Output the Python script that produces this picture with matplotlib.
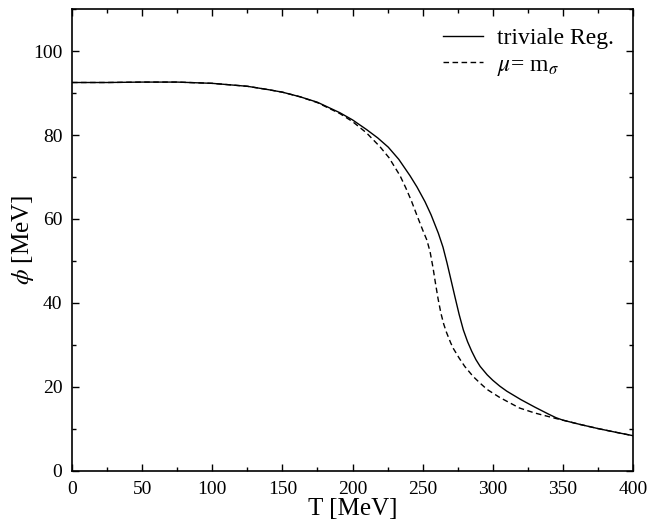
import numpy as np
import matplotlib
matplotlib.use("Agg")
import matplotlib.pyplot as plt
from matplotlib.ticker import MultipleLocator

# values
t_triv = [0, 25, 50, 75, 100, 125, 140, 150, 162.6, 175, 191, 200, 210, 218, 225.5, 233,
          241, 246, 251.7, 256, 261.2, 264.5, 267.4, 270, 273, 276, 279, 282, 285, 288,
          291, 296, 300, 305, 310, 320, 330, 340, 345, 350, 362, 375, 388, 400]
phi_triv = [92.5, 92.5, 92.6, 92.6, 92.3, 91.6, 90.8, 90.2, 89.1, 87.8, 85.3, 83.6, 81.3,
            79.3, 77.1, 74.2, 70.3, 67.6, 64.1, 61.0, 56.6, 53.3, 49.5, 45.8, 41.5, 37.3,
            33.6, 30.8, 28.5, 26.5, 24.9, 22.9, 21.6, 20.2, 19.0, 17.0, 15.2, 13.5, 12.7,
            12.1, 11.1, 10.1, 9.2, 8.4]

t_mu = [0, 25, 50, 75, 100, 125, 140, 150, 162.6, 175, 191, 200, 210, 219.6, 226, 233.9,
        238, 242, 246, 250, 253, 255.3, 257.4, 259, 261, 263, 265, 267, 270, 272, 276,
        280, 286, 291, 296, 305, 319, 330, 345, 350, 362, 375, 388, 400]
phi_mu = [92.5, 92.5, 92.6, 92.6, 92.3, 91.6, 90.8, 90.2, 89.1, 87.7, 85.1, 83.2, 80.5,
          77.2, 74.6, 70.3, 67.4, 64.3, 60.8, 57.4, 55.0, 52.2, 48.4, 45.0, 41.0, 37.6,
          35.0, 33.0, 30.5, 29.1, 26.9, 24.9, 22.5, 20.9, 19.4, 17.5, 15.0, 13.8, 12.5,
          12.1, 11.1, 10.1, 9.2, 8.4]

plt.rcParams['font.family'] = 'Liberation Serif'
plt.rcParams['mathtext.fontset'] = 'stix'

fig = plt.figure(figsize=(6.51, 5.27), dpi=100)
ax = fig.add_axes([0.1106, 0.1063, 0.8618, 0.8766])

ax.plot(t_triv, phi_triv, 'k-', lw=1.0, label='triviale Reg.')
ax.plot(t_mu, phi_mu, 'k--', lw=1.0, dashes=(4, 2.5), label=r'$\mu$= m$_\sigma$')

ax.set_xlim(0, 400)
ax.set_ylim(0, 110)
ax.xaxis.set_major_locator(MultipleLocator(50))
ax.xaxis.set_minor_locator(MultipleLocator(25))
ax.yaxis.set_major_locator(MultipleLocator(20))
ax.yaxis.set_minor_locator(MultipleLocator(10))
ax.tick_params(which='both', direction='in', top=True, right=True, labelsize=14, width=1)
ax.tick_params(which='major', length=5, pad=7)
ax.tick_params(which='minor', length=3)
for s in ax.spines.values():
    s.set_linewidth(1.2)

ax.set_xlabel('T [MeV]', fontsize=18, labelpad=0)
ax.set_ylabel(r'$\phi$ [MeV]', fontsize=18, labelpad=-2)

ax.legend(loc='upper right', frameon=False, fontsize=17, handlelength=1.7,
          handletextpad=0.6, borderaxespad=0.4, labelspacing=0.2)

fig.savefig('out.png', dpi=100)
